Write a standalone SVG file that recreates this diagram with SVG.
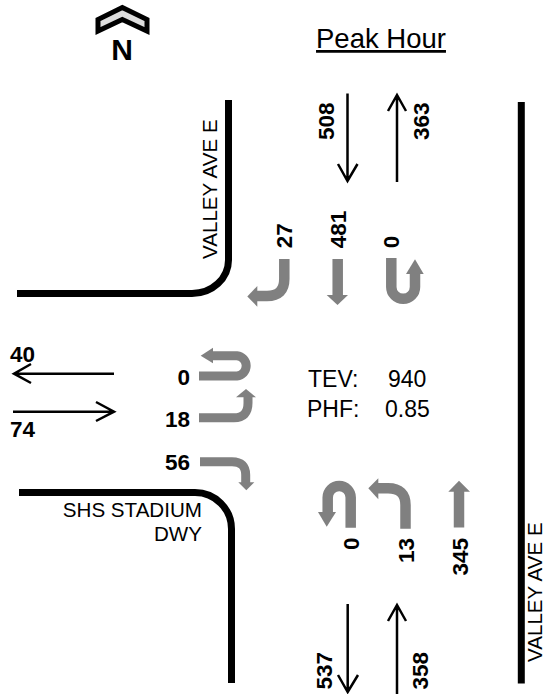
<svg xmlns="http://www.w3.org/2000/svg" width="548" height="694" viewBox="0 0 548 694">
<style>
text{font-family:"Liberation Sans",Arial,sans-serif;fill:#000}
.n{font-size:22.500px;font-weight:bold}
.l{font-size:20.600px}
.t{font-size:23px}
.road{fill:none;stroke:#000;stroke-width:7}
.flow{fill:none;stroke:#000;stroke-width:2.500}
.g{fill:none;stroke:#808080;stroke-width:10.500}
.g9{fill:none;stroke:#808080;stroke-width:9}
.h{fill:#808080}
</style>
<rect width="548" height="694" fill="#fff"/>
<g id="north-arrow">
<polygon points="122.300,7.500 147,19.500 147,31 122.300,19.500 98,31 98,19.500" fill="#ddd" stroke="#000" stroke-width="5"/>
<text x="122" y="60" text-anchor="middle" font-size="30" font-weight="bold">N</text>
</g>
<text id="title" x="381" y="48" text-anchor="middle" font-size="27.500" text-decoration="underline">Peak Hour</text>
<g id="roads">
<path class="road" d="M17,293.500H192A36.500,33.500 0 0 0 228.500,260V100"/>
<path class="road" d="M19,492.500H195A36.500,36.500 0 0 1 231.500,529V683"/>
<path class="road" d="M521.300,102V683.500"/>
</g>
<g id="connectors">
<path class="flow" d="M347.500,93.500V180M338,164L347.500,181L357.500,164"/>
<path class="flow" d="M397,182V96M388,111L397,95L406,111"/>
<path class="flow" d="M347.700,604V691M338,675L347.700,692L358,675"/>
<path class="flow" d="M397,694V606M388,621L397,605L406,621"/>
<path class="flow" d="M114,373.700H15M31,364L14,373.700L31,383"/>
<path class="flow" d="M13,411.700H112M96,402L114,411.700L96,421"/>
</g>
<g id="mv-sb-right"><path class="g" d="M284.300,259V279Q284.300,296 267,296H256"/><polygon class="h" points="247.300,296.500 257.300,286 257.300,306.700"/></g>
<g id="mv-sb-thru"><path class="g" d="M337.700,259V296"/><polygon class="h" points="326.700,295 348,295 337.500,305"/></g>
<g id="mv-sb-u"><path class="g" d="M391.300,258V287A11.850,11.850 0 0 0 415,287V273"/><polygon class="h" points="415,259.300 423.700,274 406,274"/></g>
<g id="mv-eb-u"><path class="g9" d="M199,376H237A10.200,10.200 0 0 0 237,355.700H212"/><polygon class="h" points="200.700,355.700 213,347.700 213,363.300"/></g>
<g id="mv-eb-left"><path class="g9" d="M199,417.700H234Q248,417.700 248,403V396"/><polygon class="h" points="246,389 256,397.300 236,397.300"/></g>
<g id="mv-eb-right"><path class="g9" d="M200,461.700H232Q245.700,461.700 245.700,475V483"/><polygon class="h" points="238.300,482.300 254.300,482.300 246.300,490.300"/></g>
<g id="mv-nb-u"><path class="g" d="M350.700,527.700V497.500A11.500,11.500 0 0 0 327.700,497.500V513"/><polygon class="h" points="318,512 336,512 326.700,526.700"/></g>
<g id="mv-nb-left"><path class="g" d="M405.500,528.700V505Q405.500,488.300 388,488.300H377"/><polygon class="h" points="368.300,488.300 378.300,478.300 378.300,499.300"/></g>
<g id="mv-nb-thru"><path class="g" d="M459,527.500V490"/><polygon class="h" points="459,480.700 470,491.700 448.300,491.700"/></g>
<g id="labels">
<text class="n" transform="translate(334.300,140) rotate(-90)">508</text>
<text class="n" transform="translate(429.300,140) rotate(-90)">363</text>
<text class="n" transform="translate(292,248.300) rotate(-90)">27</text>
<text class="n" transform="translate(345.700,248.300) rotate(-90)">481</text>
<text class="n" transform="translate(399.300,248.300) rotate(-90)">0</text>
<text class="n" transform="translate(359.300,550) rotate(-90)">0</text>
<text class="n" transform="translate(414.300,563) rotate(-90)">13</text>
<text class="n" transform="translate(467.700,575.500) rotate(-90)">345</text>
<text class="n" transform="translate(331.700,689.500) rotate(-90)">537</text>
<text class="n" transform="translate(427.700,689.500) rotate(-90)">358</text>
<text class="n" x="10" y="362.300">40</text>
<text class="n" x="10" y="436.700">74</text>
<text class="n" x="190" y="385" text-anchor="end">0</text>
<text class="n" x="190" y="427.300" text-anchor="end">18</text>
<text class="n" x="190" y="470" text-anchor="end">56</text>
<text class="t" x="308" y="386.700">TEV:</text>
<text class="t" x="388" y="386.700">940</text>
<text class="t" x="307" y="417.300">PHF:</text>
<text class="t" x="385" y="417.300">0.85</text>
<text class="l" x="202" y="517.300" text-anchor="end">SHS STADIUM</text>
<text class="l" x="202" y="540.700" text-anchor="end">DWY</text>
<text class="l" transform="translate(217.300,259) rotate(-90)">VALLEY AVE E</text>
<text class="l" transform="translate(542.300,662) rotate(-90)">VALLEY AVE E</text>
</g>
</svg>
